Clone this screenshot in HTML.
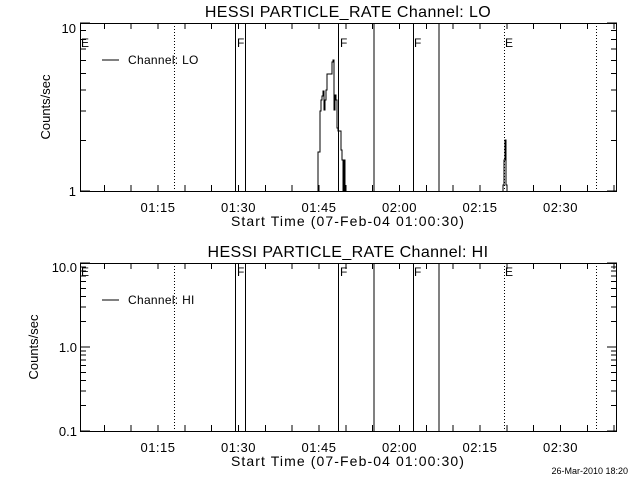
<!DOCTYPE html><html><head><style>body{margin:0;background:#fff}svg{display:block}text{font-family:"Liberation Sans",sans-serif;fill:#000}</style></head><body>
<svg width="640" height="480" viewBox="0 0 640 480" xmlns="http://www.w3.org/2000/svg" shape-rendering="crispEdges">
<defs>
<g id="xt" stroke="#000" stroke-width="1">
<path d="M104.3 0v-6M131.2 0v-6M158 0v-6M184.8 0v-6M211.7 0v-6M238.5 0v-6M265.3 0v-6M292.2 0v-6M319 0v-6M345.8 0v-6M372.7 0v-6M399.5 0v-6M426.3 0v-6M453.2 0v-6M480 0v-6M506.8 0v-6M533.7 0v-6M560.5 0v-6M587.3 0v-6M614.2 0v-6"/>
</g>
<g id="xtt" stroke="#000" stroke-width="1">
<path d="M104.3 0v6M131.2 0v6M158 0v6M184.8 0v6M211.7 0v6M238.5 0v6M265.3 0v6M292.2 0v6M319 0v6M345.8 0v6M372.7 0v6M399.5 0v6M426.3 0v6M453.2 0v6M480 0v6M506.8 0v6M533.7 0v6M560.5 0v6M587.3 0v6M614.2 0v6"/>
</g>
<g id="vl" fill="none" stroke="#000">
<path d="M174.3 0v168M504.3 0v168M596.3 0v168" stroke-dasharray="1,2"/>
<path d="M235.7 0v168M245.7 0v168M338.3 0v168M374 0v168M413.3 0v168M439 0v168"/>
</g>
<g id="xl" text-anchor="middle">
<g font-size="13" letter-spacing="0.5"><text x="158" y="212">01:15</text><text x="238.5" y="212">01:30</text><text x="319" y="212">01:45</text><text x="399.5" y="212">02:00</text><text x="480" y="212">02:15</text><text x="560.5" y="212">02:30</text></g>
<text x="348" y="226" font-size="14" letter-spacing="1.1">Start Time (07-Feb-04 01:00:30)</text>
</g>
</defs>
<!-- top plot -->
<text x="348" y="17" font-size="16" letter-spacing="0.4" text-anchor="middle">HESSI PARTICLE_RATE Channel: LO</text>
<rect x="80.5" y="23.5" width="536" height="168" fill="none" stroke="#000"/>
<use href="#xt" y="191"/><use href="#xtt" y="23"/>
<g stroke="#000"><path d="M80 191h10M80 23h10M607 191h10M607 23h10M80 140.4h6M80 110.8h6M80 89.9h6M80 73.6h6M80 60.3h6M80 49h6M80 39.3h6M80 30.7h6M611 140.4h6M611 110.8h6M611 89.9h6M611 73.6h6M611 60.3h6M611 49h6M611 39.3h6M611 30.7h6"/></g>
<g transform="translate(0,23)"><use href="#vl"/></g>
<g font-size="12"><text x="81" y="47">E</text><text x="237" y="47">F</text><text x="340" y="47">F</text><text x="414" y="47">F</text><text x="505" y="47">E</text></g>
<text x="76" y="33" font-size="13" text-anchor="end">10</text>
<text x="76" y="196" font-size="13" text-anchor="end">1</text>
<text transform="translate(50,107) rotate(-90)" font-size="13" text-anchor="middle">Counts/sec</text>
<path d="M102 60h17" stroke="#000"/><text x="128" y="64" font-size="12" letter-spacing="0.3">Channel: LO</text>
<path fill="none" stroke="#000" d="M318 191V152H320V111H321V100H322V96H323V91H324V110H325V100H326V90H327V74H331V74H332V62H333V60H334V110H335V95H336V100H337V128H338V131H340V131H341V150H342V160H343V191H344V160H345V191"/>
<path fill="none" stroke="#000" d="M503 191V185H504V160H505V140H506V185H507V191"/>
<use href="#xl"/>
<!-- bottom plot -->
<text x="348" y="257" font-size="16" letter-spacing="0.4" text-anchor="middle">HESSI PARTICLE_RATE Channel: HI</text>
<rect x="80.5" y="263.5" width="536" height="168" fill="none" stroke="#000"/>
<use href="#xt" y="431"/><use href="#xtt" y="263"/>
<g stroke="#000"><path d="M80 431h10M80 347h10M80 263h10M607 431h10M607 347h10M607 263h10M80 405.7h6M80 390.9h6M80 380.4h6M80 372.3h6M80 365.6h6M80 360h6M80 355.1h6M80 350.8h6M80 321.7h6M80 306.9h6M80 296.4h6M80 288.3h6M80 281.6h6M80 276h6M80 271.1h6M80 266.8h6M611 405.7h6M611 390.9h6M611 380.4h6M611 372.3h6M611 365.6h6M611 360h6M611 355.1h6M611 350.8h6M611 321.7h6M611 306.9h6M611 296.4h6M611 288.3h6M611 281.6h6M611 276h6M611 271.1h6M611 266.8h6"/></g>
<g transform="translate(0,263)"><use href="#vl"/></g>
<g font-size="12"><text x="81" y="276">E</text><text x="237" y="276">F</text><text x="340" y="276">F</text><text x="414" y="276">F</text><text x="505" y="276">E</text></g>
<text x="77" y="272" font-size="13" text-anchor="end">10.0</text>
<text x="77" y="352" font-size="13" text-anchor="end">1.0</text>
<text x="77" y="436" font-size="13" text-anchor="end">0.1</text>
<text transform="translate(38,347) rotate(-90)" font-size="13" text-anchor="middle">Counts/sec</text>
<path d="M102 300h17" stroke="#000"/><text x="128" y="304" font-size="12" letter-spacing="0.3">Channel: HI</text>
<g transform="translate(0,240)"><use href="#xl"/></g>
<text x="628" y="474" font-size="9" text-anchor="end">26-Mar-2010 18:20</text>
</svg></body></html>
